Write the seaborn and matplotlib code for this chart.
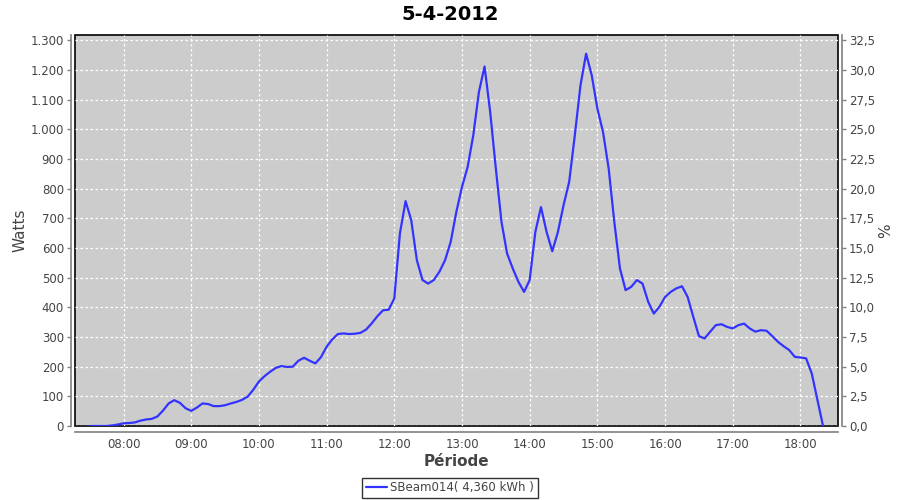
import matplotlib
matplotlib.use("Agg")
import matplotlib.pyplot as plt
import matplotlib.dates as mdates
from matplotlib.ticker import FuncFormatter, MultipleLocator
import seaborn as sns
import pandas as pd

# ---- data ----
times = [
    "07:30", "07:35", "07:40", "07:45", "07:50", "07:55",
    "08:00", "08:05", "08:10", "08:15", "08:20", "08:25", "08:30", "08:35", "08:40", "08:45", "08:50", "08:55",
    "09:00", "09:05", "09:10", "09:15", "09:20", "09:25", "09:30", "09:35", "09:40", "09:45", "09:50", "09:55",
    "10:00", "10:05", "10:10", "10:15", "10:20", "10:25", "10:30", "10:35", "10:40", "10:45", "10:50", "10:55",
    "11:00", "11:05", "11:10", "11:15", "11:20", "11:25", "11:30", "11:35", "11:40", "11:45", "11:50", "11:55",
    "12:00", "12:05", "12:10", "12:15", "12:20", "12:25", "12:30", "12:35", "12:40", "12:45", "12:50", "12:55",
    "13:00", "13:05", "13:10", "13:15", "13:20", "13:25", "13:30", "13:35", "13:40", "13:45", "13:50", "13:55",
    "14:00", "14:05", "14:10", "14:15", "14:20", "14:25", "14:30", "14:35", "14:40", "14:45", "14:50", "14:55",
    "15:00", "15:05", "15:10", "15:15", "15:20", "15:25", "15:30", "15:35", "15:40", "15:45", "15:50", "15:55",
    "16:00", "16:05", "16:10", "16:15", "16:20", "16:25", "16:30", "16:35", "16:40", "16:45", "16:50", "16:55",
    "17:00", "17:05", "17:10", "17:15", "17:20", "17:25", "17:30", "17:35", "17:40", "17:45", "17:50", "17:55",
    "18:00", "18:05", "18:10", "18:15", "18:20",
]
watts = [
    0, 0, 0, 0, 2, 5,
    9, 10, 12, 18, 22, 24, 32, 52, 76, 87, 78, 60,
    51, 62, 76, 74, 67, 67, 70, 76, 81, 88, 99, 122,
    150, 168, 183, 196, 202, 199, 200, 220, 230, 220, 211, 232,
    267, 292, 310, 312, 310, 311, 314, 325, 346, 370, 390, 392,
    430, 650, 758, 694, 559, 492, 480, 492, 520, 559, 621, 722,
    806, 873, 980, 1126, 1212, 1058, 868, 688, 581, 531, 486, 452,
    492, 654, 738, 654, 589, 654, 744, 823, 980, 1148, 1255, 1182,
    1070, 991, 868, 688, 531, 458, 469, 492, 480, 419, 379, 402,
    435, 452, 464, 471, 435, 368, 303, 295, 318, 340, 343, 334,
    329, 340, 345, 329, 318, 323, 321, 303, 284, 269, 256, 233,
    231, 228, 177, 88, 0,
]
series_name = "SBeam014( 4,360 kWh )"
title = "5-4-2012"
date = "2012-04-05"

df = pd.DataFrame({"time": pd.to_datetime([f"{date} {t}" for t in times]),
                   "watts": watts})

# ---- style ----
sns.set_style("white")
plt.rcParams["font.family"] = ["DejaVu Sans"]

fig = plt.figure(figsize=(9, 5), dpi=100)
ax = fig.add_axes([75 / 900, 1 - 426 / 500, (837.7 - 75) / 900, (426 - 35) / 500])

sns.lineplot(data=df, x="time", y="watts", ax=ax, color="#3333ff",
             linewidth=1.6, label=series_name, legend=False)

ax.set_facecolor("#cccccc")
ax.patch.set_edgecolor("black")
ax.patch.set_linewidth(1.2)

ymax = 1318
ax.set_ylim(0, ymax)
ax.margins(x=0.02)
ax.yaxis.set_major_locator(MultipleLocator(100))
ax.yaxis.set_major_formatter(FuncFormatter(lambda v, p: f"{int(round(v)):,}".replace(",", ".")))
ax.xaxis.set_major_locator(mdates.HourLocator())
ax.xaxis.set_major_formatter(mdates.DateFormatter("%H:%M"))

ax.grid(True, color="white", linestyle=(0, (2, 2)), linewidth=0.9)
ax.set_axisbelow(True)

for s in ["top", "right"]:
    ax.spines[s].set_visible(False)
ax.spines["left"].set_position(("outward", 3))
ax.spines["bottom"].set_position(("outward", 4))
for s in ["left", "bottom"]:
    ax.spines[s].set_color("#808080")
    ax.spines[s].set_linewidth(1.2)

tick_color = "#444444"
ax.tick_params(axis="both", which="major", direction="out", length=3, width=1,
               color="#808080", labelsize=8.5, labelcolor=tick_color, pad=2)
ax.set_xlabel("Période", fontsize=11, fontweight="bold", color=tick_color, labelpad=2)
ax.set_ylabel("Watts", fontsize=11, color=tick_color, labelpad=2)

# right axis (%)
ax2 = ax.twinx()
ax2.set_ylim(0, ymax / 40)
ax2.yaxis.set_major_locator(MultipleLocator(2.5))
ax2.yaxis.set_major_formatter(FuncFormatter(lambda v, p: f"{v:.1f}".replace(".", ",")))
for s in ["top", "left", "bottom"]:
    ax2.spines[s].set_visible(False)
ax2.spines["right"].set_position(("outward", 3))
ax2.spines["right"].set_color("#808080")
ax2.spines["right"].set_linewidth(1.2)
ax2.tick_params(axis="y", direction="out", length=3, width=1, color="#808080",
                labelsize=8.5, labelcolor=tick_color, pad=2)
ax2.set_ylabel("%", fontsize=11, color=tick_color, labelpad=2)
ax2.grid(False)

fig.text(0.5, 1 - 15 / 500, title, ha="center", va="center",
         fontsize=14, fontweight="bold", color="black")

handles, labels = ax.get_legend_handles_labels()
leg = fig.legend(handles, labels, loc="center", bbox_to_anchor=(0.5, 1 - 488 / 500),
                 frameon=True, fancybox=False, fontsize=8.5, handlelength=1.8,
                 handletextpad=0.3, borderpad=0.3, borderaxespad=0)
leg.get_frame().set_edgecolor("black")
leg.get_frame().set_linewidth(1)
for t in leg.get_texts():
    t.set_color(tick_color)

fig.savefig("out.png", dpi=100)
